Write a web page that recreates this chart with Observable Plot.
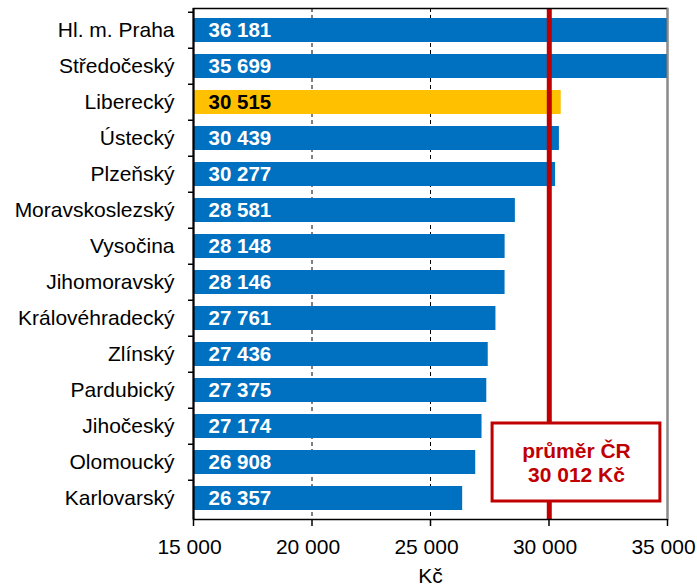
<!DOCTYPE html>
<html>
<head>
<meta charset="utf-8">
<script src="https://cdn.jsdelivr.net/npm/d3@7"></script>
<script src="https://cdn.jsdelivr.net/npm/@observablehq/plot@0.6"></script>
<style>
  html, body { margin: 0; padding: 0; background: #fff; }
</style>
</head>
<body>
<div id="chart"></div>
<script>
const regions = ["Hl. m. Praha","Středočeský","Liberecký","Ústecký","Plzeňský","Moravskoslezský","Vysočina","Jihomoravský","Královéhradecký","Zlínský","Pardubický","Jihočeský","Olomoucký","Karlovarský"];
const wages = [36181,35699,30515,30439,30277,28581,28148,28146,27761,27436,27375,27174,26908,26357];
const highlight = "Liberecký";
const average = 30012;
const averageLabel = "průměr ČR";
const xTicks = [15000,20000,25000,30000,35000];
const gridTicks = [20000,25000,30000];
const xLabel = "Kč";

const data = regions.map((r, i) => ({region: r, value: wages[i]}));
const locale = d3.formatLocale({decimal: ",", thousands: " ", grouping: [3], currency: ["", " Kč"]});
const fmt = locale.format(",d");
const xMin = xTicks[0], xMax = xTicks[xTicks.length - 1];

const BLUE = "#0070C0", GOLD = "#FFC000", RED = "#C00000";
const step = (585 - 66 - 8) / regions.length;

const chart = Plot.plot({
  width: 697,
  height: 585,
  marginLeft: 193,
  marginRight: 30,
  marginTop: 8,
  marginBottom: 66,
  style: {fontFamily: "'Liberation Sans', Arial, sans-serif", fontSize: "21px", color: "#000", background: "#fff"},
  x: {domain: [xMin, xMax]},
  y: {domain: regions, paddingInner: 0.34, paddingOuter: 0.17, align: 0.5},
  marks: [
    Plot.ruleX(gridTicks, {stroke: "#000", strokeWidth: 1, strokeDasharray: "4,3"}),
    Plot.barX(data, {
      x1: () => xMin, x2: "value", y: "region",
      fill: d => d.region === highlight ? GOLD : BLUE,
      clip: true
    }),
    Plot.ruleX([average], {stroke: RED, strokeWidth: 5}),
    Plot.barX([{row: "Olomoucký"}], {
      x1: () => 27620, x2: () => 34700, y: "row",
      fill: "#fff", stroke: RED, strokeWidth: 3,
      insetTop: -27, insetBottom: -27
    }),
    Plot.text([{row: "Olomoucký"}], {
      x: () => (27620 + 34700) / 2, y: "row",
      text: () => `${averageLabel}\n${fmt(average)} Kč`,
      fill: RED, fontWeight: "bold", fontSize: 21, lineHeight: 1.15
    }),
    Plot.text(data, {
      x: () => xMin, y: "region", text: d => fmt(d.value),
      dx: 15, textAnchor: "start",
      fill: d => d.region === highlight ? "#000" : "#fff",
      fontWeight: "bold", fontSize: 20.5
    }),
    Plot.frame({stroke: "#000", strokeWidth: 1.5}),
    Plot.ruleX([xMax], {stroke: "#8c8c8c", strokeWidth: 2}),
    Plot.ruleX([xMin], {stroke: "#000", strokeWidth: 2}),
    Plot.axisX({anchor: "bottom", ticks: xTicks, tickFormat: () => "", tickSize: 7, label: null, strokeWidth: 1.5}),
    Plot.axisX({
      anchor: "bottom", ticks: xTicks, tickFormat: fmt,
      tickSize: 0, tickPadding: 20, fontSize: 21, dx: -4,
      label: xLabel, labelAnchor: "center", labelArrow: "none", labelOffset: 63
    }),
    Plot.axisY({anchor: "left", tickSize: 0, tickPadding: 19, fontSize: 21, label: null}),
    Plot.axisY({anchor: "left", tickSize: 5, tickFormat: () => "", label: null, dy: -step / 2, strokeWidth: 1.5})
  ]
});
document.getElementById("chart").appendChild(chart);
</script>
</body>
</html>
